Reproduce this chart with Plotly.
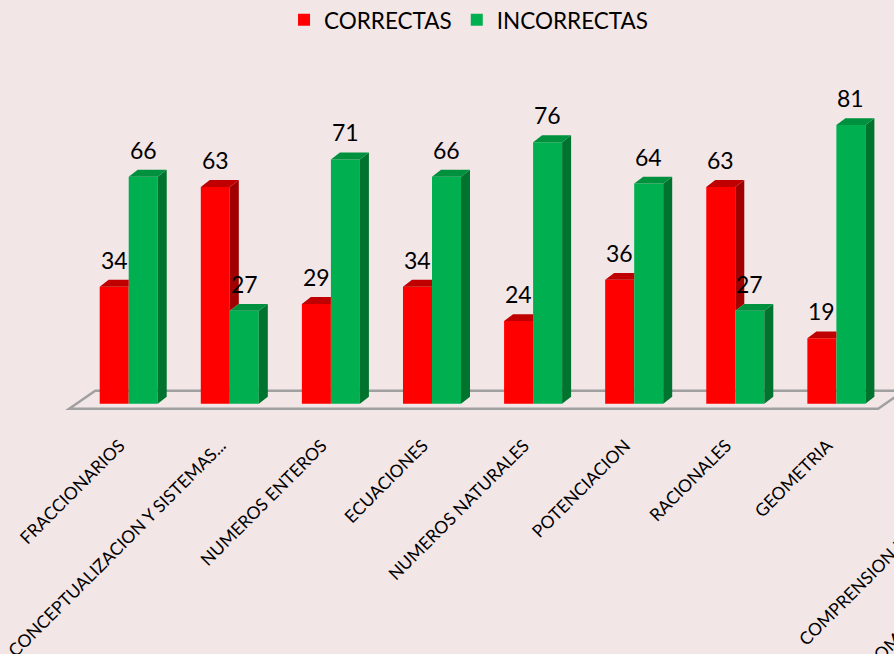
import plotly.graph_objects as go

categories = ["FRACCIONARIOS", "CONCEPTUALIZACION Y SISTEMAS...", "NUMEROS ENTEROS",
              "ECUACIONES", "NUMEROS NATURALES", "POTENCIACION", "RACIONALES", "GEOMETRIA"]
correctas = [34, 63, 29, 34, 24, 36, 63, 19]
incorrectas = [66, 27, 71, 66, 76, 64, 27, 81]
extra_label = ["COMPRENSION LECTORA", "COMUNICACION"]

RED, GREEN = "#FF0000", "#00B050"
RED_TOP, RED_SIDE = "#C00000", "#A00000"
GREEN_TOP, GREEN_SIDE = "#00913F", "#00732F"
BG = "#F3E6E7"
FONT = "Lato"

W, H = 894, 654
ML, MR, MT, MB = 63, 0, 70, 240
BW, DX, DY = 0.287, 0.089, 2.0
XR = [-0.65, 7.57]
YR = [-3, 97]

xs = list(range(len(categories)))
fig = go.Figure()
fig.add_trace(go.Bar(x=xs, y=correctas, name="CORRECTAS", marker_color=RED,
                     marker_line_width=0, width=BW, offset=-BW))
fig.add_trace(go.Bar(x=xs, y=incorrectas, name="INCORRECTAS", marker_color=GREEN,
                     marker_line_width=0, width=BW, offset=0))

def poly_trace(polys, color):
    px, py = [], []
    for p in polys:
        for (a, b) in p + [p[0]]:
            px.append(a); py.append(b)
        px.append(None); py.append(None)
    return go.Scatter(x=px, y=py, mode="lines", fill="toself", fillcolor=color,
                      line=dict(width=0, color=color), hoverinfo="skip", showlegend=False)

red_side, red_top, green_side, green_top = [], [], [], []
for i, (r, g) in enumerate(zip(correctas, incorrectas)):
    x0, x1 = i, i + BW
    green_side.append([(x1, 0), (x1 + DX, DY), (x1 + DX, g + DY), (x1, g)])
    green_top.append([(x0, g), (x0 + DX, g + DY), (x1 + DX, g + DY), (x1, g)])
    if r > g:
        red_side.append([(i, g), (i + DX, g + DY), (i + DX, r + DY), (i, r)])
        red_top.append([(i - BW, r), (i - BW + DX, r + DY), (i + DX, r + DY), (i, r)])
    else:
        red_top.append([(i - BW, r), (i - BW + DX, r + DY), (i, r + DY), (i, r)])

fig.add_trace(poly_trace(red_side, RED_SIDE))
fig.add_trace(poly_trace(red_top, RED_TOP))
fig.add_trace(poly_trace(green_side, GREEN_SIDE))
fig.add_trace(poly_trace(green_top, GREEN_TOP))

# value labels
ann = []
for i, (r, g) in enumerate(zip(correctas, incorrectas)):
    for v, xc in ((r, i - BW / 2), (g, i + BW / 2)):
        ann.append(dict(x=xc, y=v, xref="x", yref="y", text=str(v), showarrow=False,
                        yanchor="bottom", xanchor="center", yshift=11,
                        font=dict(family=FONT, size=23, color="#000000")))

# partially visible 9th category label (cut by the picture edge)
plot_w = W - ML - MR
plot_h = H - MT - MB
def pxp(p):
    return (p - ML) / plot_w
def pyp(p):
    return (H - MB - p) / plot_h
ann.append(dict(x=pxp(792), y=pyp(652), xref="paper", yref="paper", text=extra_label[0],
                showarrow=False, textangle=-45, xanchor="left", yanchor="bottom",
                font=dict(family=FONT, size=17.5, color="#000000")))
ann.append(dict(x=pxp(858), y=pyp(676), xref="paper", yref="paper", text=extra_label[1],
                showarrow=False, textangle=-45, xanchor="left", yanchor="bottom",
                font=dict(family=FONT, size=17.5, color="#000000")))

# floor of the 3D plot
floor = dict(type="path", xref="x", yref="y", layer="below",
             path="M -0.589,-1.45 L -0.331,3.78 L 9,3.78 L 7.67,3.78 L 7.413,-1.45 Z",
             line=dict(color="#A0A0A0", width=2.5), fillcolor="rgba(0,0,0,0)")

fig.update_layout(
    template="none",
    width=W, height=H,
    margin=dict(l=ML, r=MR, t=MT, b=MB, autoexpand=False),
    paper_bgcolor=BG, plot_bgcolor=BG,
    font=dict(family=FONT, color="#000000"),
    showlegend=True,
    legend=dict(orientation="h", x=0.488, xanchor="center", y=1.145, yanchor="middle",
                font=dict(family=FONT, size=22.5), bgcolor="rgba(0,0,0,0)",
                itemwidth=30, traceorder="normal"),
    xaxis=dict(range=XR, tickmode="array", tickvals=xs, ticktext=categories,
               tickangle=-45, showgrid=False, zeroline=False, showline=False,
               ticks="", ticklabelstandoff=17, ticklabelshift=-9, automargin=False,
               tickfont=dict(family=FONT, size=17.5, color="#000000")),
    yaxis=dict(range=YR, showgrid=False, zeroline=False, showline=False,
               showticklabels=False, ticks="", automargin=False),
    shapes=[floor],
    annotations=ann,
    bargap=0.4,
)

fig.write_html("out.html", config={"displayModeBar": False},
               post_script="document.body.style.margin='0';document.body.style.overflow='hidden';")
